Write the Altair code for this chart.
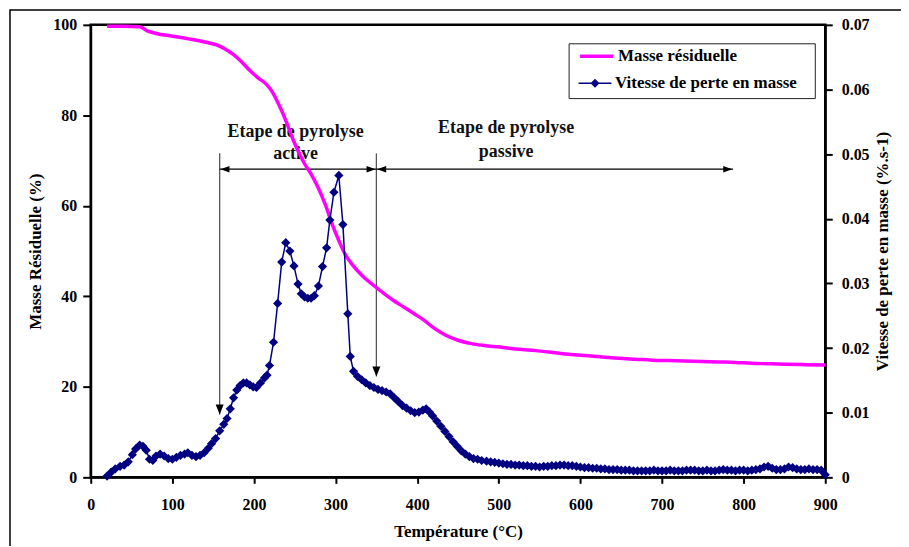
import altair as alt
import pandas as pd

# ---------------- data ----------------
# Residual mass curve (left axis, %)
temp_masse = [20, 40, 60, 70, 80, 100, 120, 140, 155, 165, 175, 185, 195, 205, 215,
              222, 228, 234, 240, 248, 255, 262, 270, 278, 287, 297, 305, 312, 321,
              333, 346, 358, 370, 383, 395, 407, 419, 435, 450, 465, 484, 505, 525,
              545, 566, 586, 606, 627, 647, 668, 688, 708, 728, 749, 769, 790, 810,
              830, 851, 875, 900]
masse = [99.7, 99.7, 99.6, 98.6, 98.1, 97.5, 96.9, 96.2, 95.5, 94.6, 93.4, 91.8, 89.9,
         88.3, 86.9, 85.3, 83.3, 81.0, 78.4, 74.6, 71.8, 69.3, 67.0, 64.3, 60.5, 55.4,
         51.9, 49.2, 46.9, 44.5, 42.5, 40.8, 39.2, 37.7, 36.3, 34.9, 33.2, 31.4, 30.3,
         29.6, 29.1, 28.7, 28.3, 28.0, 27.6, 27.2, 26.9, 26.6, 26.3, 26.1, 25.9, 25.8,
         25.7, 25.6, 25.5, 25.4, 25.2, 25.1, 25.0, 24.9, 24.8]

# Mass loss rate (right axis, %.s-1)
temp_vitesse = [20, 25, 30, 36, 41, 46, 51, 55, 60, 64, 68, 72, 76, 80, 85, 90, 95, 100,
                105, 110, 115, 119, 124, 129, 134, 139, 144, 148, 153, 158, 163, 167,
                171, 175, 179, 183, 187, 191, 195, 199, 203, 208, 213, 216, 219, 224,
                229, 234, 239, 244, 249, 254, 258, 262, 266, 270, 274, 279, 284, 289,
                293, 298, 304, 309, 315, 318, 322, 327, 332, 337, 342, 347, 352, 357,
                362, 367, 372, 377, 382, 387, 392, 397, 402, 407, 411, 415, 419, 424,
                429, 434, 439, 444, 449, 454, 459, 464, 469, 474, 479,
                485, 490, 495, 500, 505, 510, 515, 520, 525, 530, 535, 540, 545, 550,
                555, 560, 565, 570, 575, 580, 585, 590, 595, 600, 605, 610, 615, 620,
                625, 630, 635, 640, 645, 650, 655, 660, 665, 670, 675, 680, 685, 690,
                695, 700, 705, 710, 715, 720, 725, 730, 735, 740, 745, 750, 755, 760,
                765, 770, 775, 780, 785, 790, 795, 800, 805, 810, 815, 820, 825, 830,
                835, 840, 845, 850, 855, 860, 865, 870, 875, 880, 885, 890, 895, 900]
vitesse = [0.0002, 0.0008, 0.0013, 0.0017, 0.0019, 0.0024, 0.0035, 0.0044, 0.0050, 0.0048,
           0.0042, 0.0028, 0.0026, 0.0033, 0.0036, 0.0033, 0.0029, 0.0028, 0.0031, 0.0034,
           0.0036, 0.0038, 0.0034, 0.0032, 0.0034, 0.0038, 0.0045, 0.0052, 0.0060, 0.0072,
           0.0082, 0.0091, 0.0106, 0.0123, 0.0135, 0.0142, 0.0146, 0.0146, 0.0143, 0.0140,
           0.0139, 0.0146, 0.0154, 0.0158, 0.0173, 0.0209, 0.0269, 0.0333, 0.0363, 0.0350,
           0.0327, 0.0299, 0.0284, 0.0279, 0.0277, 0.0277, 0.0281, 0.0296, 0.0326, 0.0355,
           0.0398, 0.0441, 0.0467, 0.0391, 0.0253, 0.0187, 0.0164, 0.0156, 0.0151, 0.0146,
           0.0142, 0.0139, 0.0136, 0.0134, 0.0132, 0.0129, 0.0123, 0.0117, 0.0111, 0.0107,
           0.0103, 0.0100, 0.0101, 0.0104, 0.0106, 0.0101, 0.0095, 0.0087, 0.0079, 0.0071,
           0.0063, 0.0055, 0.0048, 0.0041, 0.0036, 0.0032, 0.0029, 0.0028, 0.0026,
           0.0025, 0.0024, 0.0023, 0.0022, 0.0021, 0.0020, 0.0020, 0.0019, 0.0019, 0.0018,
           0.0018, 0.0017, 0.0017, 0.0016, 0.0017, 0.0017, 0.0018, 0.0018, 0.0019, 0.0019,
           0.0018, 0.0018, 0.0017, 0.0016, 0.0015, 0.0015, 0.0014, 0.0014, 0.0013, 0.0013,
           0.0012, 0.0012, 0.0012, 0.0011, 0.0011, 0.0011, 0.0010, 0.0010, 0.0010, 0.0010,
           0.0010, 0.0011, 0.0010, 0.0010, 0.0010, 0.0011, 0.0010, 0.0010, 0.0010, 0.0011,
           0.0011, 0.0011, 0.0010, 0.0010, 0.0011, 0.0010, 0.0010, 0.0011, 0.0012, 0.0011,
           0.0011, 0.0010, 0.0011, 0.0011, 0.0010, 0.0011, 0.0012, 0.0013, 0.0016, 0.0017,
           0.0014, 0.0012, 0.0012, 0.0013, 0.0016, 0.0015, 0.0013, 0.0012, 0.0012, 0.0013,
           0.0012, 0.0012, 0.0011, 0.0004]

series_names = ["Masse résiduelle", "Vitesse de perte en masse"]
series_colors = ["#ff00ff", "#000080"]

# annotations (in data units of temperature / left axis)
stage_bounds = [158, 350]          # vertical markers
stage_top = 71.6
stage_tips = [13.9, 22.3]
arrow_level = 68.1
arrow_segments = [(158, 350), (350, 787)]
label_texts = ["Etape de pyrolyse", "active", "Etape  de pyrolyse", "passive"]
label_x = [251, 251, 509, 509]
label_y = [76.3, 71.5, 77.3, 71.8]

# ---------------- frames ----------------
df_m = pd.DataFrame({"T": temp_masse, "v": masse, "serie": series_names[0]})
df_v = pd.DataFrame({"T": temp_vitesse, "v": vitesse, "serie2": series_names[1]})

df_vert = pd.DataFrame({"T": stage_bounds, "y": [stage_top] * 2, "y2": stage_tips})
df_down = pd.DataFrame({"T": stage_bounds, "y": stage_tips})
df_horiz = pd.DataFrame({"T": [a for a, b in arrow_segments],
                         "T2": [b for a, b in arrow_segments],
                         "y": [arrow_level] * 2})
df_left = pd.DataFrame({"T": [a + 1 for a, b in arrow_segments], "y": [arrow_level] * 2})
df_right = pd.DataFrame({"T": [b - 1 for a, b in arrow_segments], "y": [arrow_level] * 2})
df_text = pd.DataFrame({"T": label_x, "y": label_y, "t": label_texts})

FONT = "Liberation Serif"

x_scale = alt.Scale(domain=[0, 900], nice=False, zero=False)
x_axis = alt.Axis(values=[0, 100, 200, 300, 400, 500, 600, 700, 800, 900],
                  title="Température (°C)", labelFlush=False, tickSize=6,
                  labelPadding=13, titlePadding=11, grid=False)
yl_scale = alt.Scale(domain=[0, 100], nice=False)
yl_axis = alt.Axis(values=[0, 20, 40, 60, 80, 100], title="Masse Résiduelle (%)",
                   orient="left", tickSize=8, labelPadding=6, titlePadding=8, grid=False)
yr_scale = alt.Scale(domain=[0, 0.07], nice=False)
yr_axis = alt.Axis(values=[0, 0.01, 0.02, 0.03, 0.04, 0.05, 0.06, 0.07], format=".2~f",
                   title="Vitesse de perte en masse  (%.s-1)", orient="right",
                   tickSize=7, labelPadding=9, titlePadding=5, titleAngle=270,
                   titleBaseline="top", grid=False)


def X(f):
    return alt.X(f"{f}:Q", scale=x_scale, axis=x_axis)


def YL(f):
    return alt.Y(f"{f}:Q", scale=yl_scale, axis=yl_axis)


legend_common = dict(title=None, orient="none", direction="vertical", symbolSize=1089,
                     labelFont=FONT, labelFontSize=17, labelFontWeight="bold",
                     labelColor="black", labelOffset=3, labelLimit=400, padding=0)
leg_a = alt.Legend(legendX=489, legendY=13, symbolType="M-1,0H1",
                   symbolStrokeWidth=3.5, **legend_common)
leg_b = alt.Legend(legendX=489, legendY=41.6, symbolStrokeWidth=1,
                   symbolFillColor="#000080", symbolStrokeColor="#000080",
                   **legend_common)

color_m = alt.Color("serie:N", scale=alt.Scale(domain=[series_names[0]],
                                               range=[series_colors[0]]), legend=leg_a)
shape_v = alt.Shape("serie2:N", scale=alt.Scale(
    domain=[series_names[1]],
    range=["M-1,-0.05H1V0.05H-1ZM0,-0.27L0.27,0L0,0.27L-0.27,0Z"]), legend=leg_b)

frame = alt.Chart(pd.DataFrame({"k": [0]})).mark_rect(
    filled=False, stroke="black", strokeWidth=1.5).encode(
    x=alt.value(-81), x2=alt.value(830), y=alt.value(-15), y2=alt.value(530))
legend_box = alt.Chart(pd.DataFrame({"k": [0]})).mark_rect(
    fill="white", stroke="#222222", strokeWidth=1).encode(
    x=alt.value(480), x2=alt.value(727), y=alt.value(19), y2=alt.value(74))

texts = alt.Chart(df_text).mark_text(
    font=FONT, fontWeight="bold", fontSize=18, color="#111111",
    baseline="middle", align="center").encode(x=X("T"), y=YL("y"), text="t:N")

vert = alt.Chart(df_vert).mark_rule(color="#555555", strokeWidth=1.3).encode(
    x=X("T"), y=YL("y"), y2="y2:Q")
horiz = alt.Chart(df_horiz).mark_rule(color="black", strokeWidth=1.3).encode(
    x=X("T"), x2="T2:Q", y=YL("y"))
head_down = alt.Chart(df_down).mark_point(
    shape="M0,0L-0.4,-1L0.4,-1Z", filled=True, color="black", size=400, opacity=1).encode(
    x=X("T"), y=YL("y"))
head_left = alt.Chart(df_left).mark_point(
    shape="M0,0L1,-0.36L1,0.36Z", filled=True, color="black", size=324, opacity=1).encode(
    x=X("T"), y=YL("y"))
head_right = alt.Chart(df_right).mark_point(
    shape="M0,0L-1,-0.36L-1,0.36Z", filled=True, color="black", size=324, opacity=1).encode(
    x=X("T"), y=YL("y"))

line_m = alt.Chart(df_m).mark_line(strokeWidth=3.5, interpolate="monotone").encode(
    x=X("T"), y=YL("v"), color=color_m)

left = alt.layer(frame, legend_box, texts, vert, horiz, head_down, head_left,
                 head_right, line_m)

yr = alt.Y("v:Q", scale=yr_scale, axis=yr_axis)
line_v = alt.Chart(df_v).mark_line(strokeWidth=1.5, color="#000080").encode(
    x=X("T"), y=yr)
pts_v = alt.Chart(df_v).mark_point(shape="diamond", filled=True, size=85,
                                   color="#000080", opacity=1).encode(x=X("T"), y=yr)
legend_only = alt.Chart(df_v).transform_filter("false").mark_point(
    filled=True, color="#000080", opacity=1).encode(
    x=X("T"), y=yr, shape=shape_v)
right = alt.layer(line_v, pts_v, legend_only)

chart = alt.layer(left, right).resolve_scale(y="independent").properties(
    width=737, height=454, autosize="none", background="white",
    padding={"left": 83, "top": 16, "right": 76, "bottom": 68},
).configure_view(stroke="black", strokeWidth=2.5).configure_axis(
    labelFont=FONT, labelFontSize=16, labelFontWeight="bold", labelColor="black",
    titleFont=FONT, titleFontSize=17, titleFontWeight="bold", titleColor="black",
    domainColor="black", domainWidth=2, tickColor="black", tickWidth=2,
    labelOverlap=False,
)

chart.save("out.html", embed_options={"renderer": "svg", "actions": False})
